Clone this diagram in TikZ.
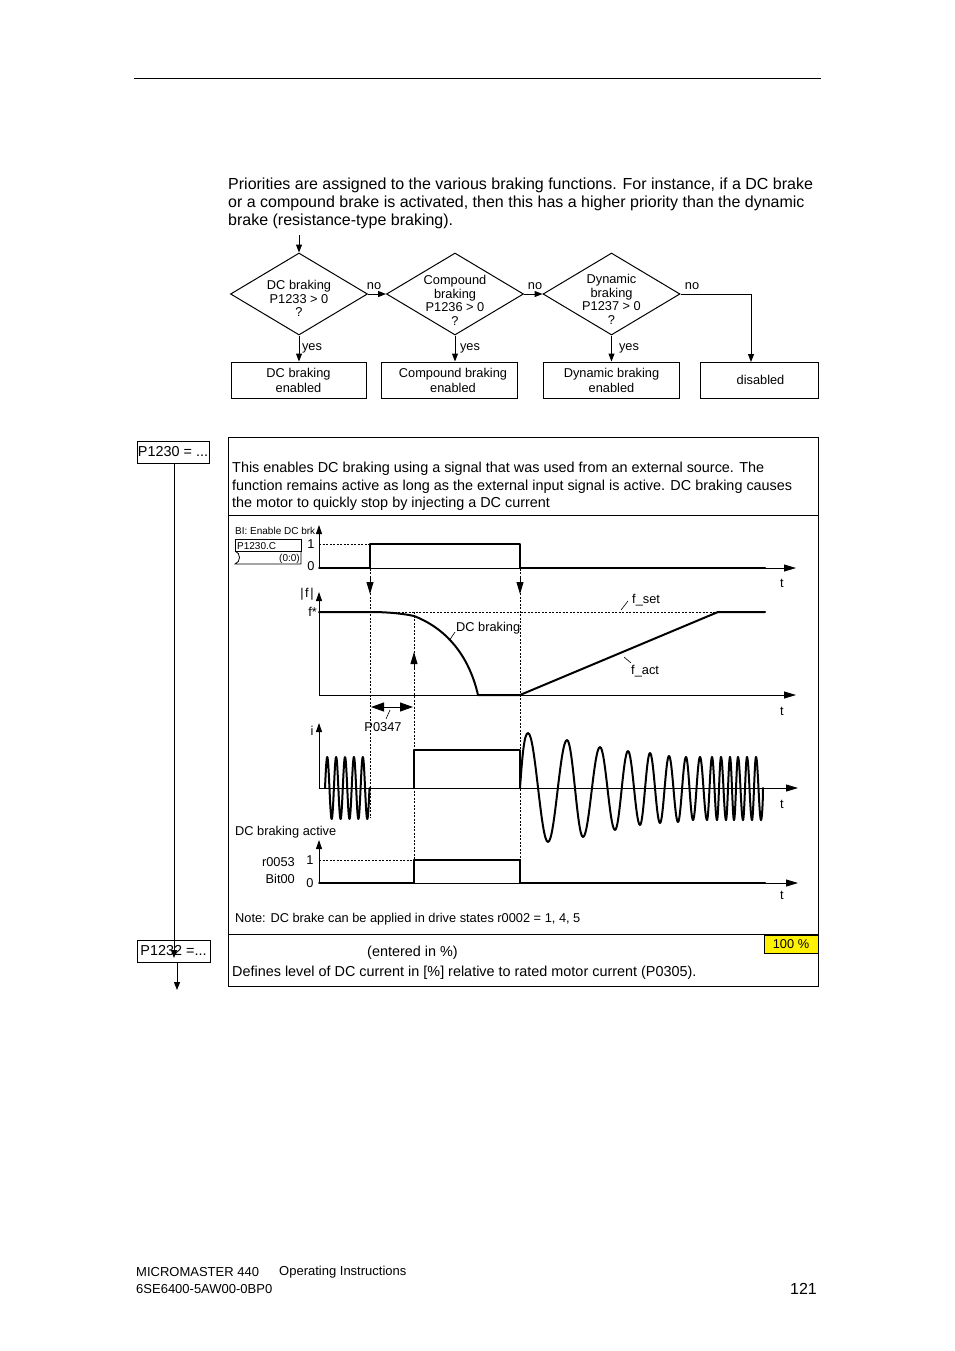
\documentclass[tikz,border=0pt]{standalone}
\usepackage{fontspec}
\setmainfont{Liberation Sans}
\usetikzlibrary{arrows.meta,shapes.geometric}
\begin{document}
\begin{tikzpicture}[x=1pt,y=-1pt,
 body/.style={font=\fontsize{16}{18}\selectfont, anchor=west, inner sep=0pt, yshift=-2pt},
 btxt/.style={font=\fontsize{14.4}{17.5}\selectfont, anchor=west, inner sep=0pt, yshift=-2pt},
 sm/.style={font=\fontsize{12.8}{13.7}\selectfont, inner sep=0pt, yshift=-1.5pt},
 tn/.style={font=\fontsize{10}{11}\selectfont, inner sep=0pt, yshift=-1pt},
 ft/.style={font=\fontsize{13}{15}\selectfont, inner sep=0pt, yshift=-1.5pt},
 dia/.style={diamond, draw, line width=1pt, minimum width=137pt, minimum height=82pt, inner sep=0pt},
 fbox/.style={draw, line width=1pt, minimum height=36pt, inner sep=0pt, font=\fontsize{12.8}{15}\selectfont, align=center},
 pbox/.style={draw, line width=1pt, minimum height=22pt, inner sep=0pt, font=\fontsize{14.4}{16}\selectfont},
 fa/.style={line width=1pt, -{Triangle[length=8pt,width=6pt]}},
 axh/.style={line width=0.9pt, -{Triangle[length=12pt,width=7pt]}},
 axv/.style={line width=0.9pt, -{Triangle[length=9pt,width=6pt]}},
 sig/.style={line width=2pt, line join=round, line cap=round},
 dl/.style={line width=0.7pt, dash pattern=on 2pt off 1.5pt},
 tipd/.style={line width=0.9pt, -{Triangle[length=12pt,width=7pt]}},
]
\useasboundingbox (0,0) rectangle (954,1351);
\fill[white] (0,0) rectangle (954,1351);

% top rule
\draw[line width=0.9pt] (134,78) -- (821,78);

% paragraph
\node[body] (p1) at (228,183) {Priorities are assigned to the various braking functions. For instance, if a DC brake};
\node[body] (p2) at (228,201) {or a compound brake is activated, then this has a higher priority than the dynamic};
\node[body] (p3) at (228,219) {brake (resistance-type braking).};

% flowchart
\node[dia] (d1) at (299,294) {};
\node[dia] (d2) at (455,294) {};
\node[dia] (d3) at (611.5,294) {};
\node[sm, align=center] (t1) at ([yshift=-3pt]d1.center) {DC braking\\P1233 > 0\\?};
\node[sm, align=center] (t2) at ([yshift=-5pt]d2.center) {Compound\\braking\\P1236 > 0\\?};
\node[sm, align=center] (t3) at ([yshift=-4pt]d3.center) {Dynamic\\braking\\P1237 > 0\\?};

\node[fbox, minimum width=135pt] (b1) at (298.5,380) {DC braking\\enabled};
\node[fbox, minimum width=136pt] (b2) at (449,380) {\hspace*{8pt}Compound braking\\\hspace*{8pt}enabled};
\node[fbox, minimum width=136pt] (b3) at (611.5,380) {Dynamic braking\\enabled};
\node[fbox, minimum width=118pt] (b4) at (759,380) {\hspace*{3pt}disabled};

\coordinate (in) at (299,235);
\coordinate (k4) at (751,362);
\draw[fa] (in) -- (d1.north);
\draw[fa] (d1.east) -- (d2.west);
\draw[fa] (d2.east) -- (d3.west);
\draw[fa] (d3.east) -| (k4);
\draw[fa] (d1.south) -- (d1.south |- b1.north);
\draw[fa] (d2.south) -- (d2.south |- b2.north);
\draw[fa] (d3.south) -- (d3.south |- b3.north);

\node[sm] (n1) at (374,285) {no};
\node[sm] (n2) at (535,285) {no};
\node[sm] (n3) at (692,285) {no};
\node[sm] (y1) at (312,347) {yes};
\node[sm] (y2) at (470,347) {yes};
\node[sm] (y3) at (629,347) {yes};

% panel
\draw[line width=1pt] (228,437) rectangle (818,986);
\draw[line width=1pt] (228,515) -- (818,515);
\draw[line width=1pt] (228,934) -- (818,934);

\node[btxt] (e1) at (232,467) {This enables DC braking using a signal that was used from an external source. The};
\node[btxt] (e2) at (232,485) {function remains active as long as the external input signal is active. DC braking causes};
\node[btxt] (e3) at (232,502) {the motor to quickly stop by injecting a DC current};

\node[btxt] (g1) at (367,951) {(entered in \%)};
\node[btxt] (g2) at (232,971) {Defines level of DC current in [\%] relative to rated motor current (P0305).};
\node[draw, fill=yellow, line width=0.8pt, minimum width=54pt, minimum height=18pt, font=\fontsize{12.8}{13.7}\selectfont, inner sep=0pt] (pct) at (791,944) {100 \%};

% parameter boxes on the left
\node[pbox, minimum width=72pt] (p30) at (173,452) {P1230 = ...};
\node[pbox, minimum width=73pt] (p32) at (173.5,951) {P1232 =...};
\coordinate (p32in) at (174,958);
\coordinate (pout) at (177,990);
\draw[fa] (p30.south -| p32in) -- (p32in);
\draw[fa] (p32.south -| pout) -- (pout);

% ---------------- timing diagram ----------------
% BI connector
\node[tn, anchor=west] (bi) at (235,530) {BI: Enable DC brk};
\draw[line width=0.8pt] (235,539) rectangle (301,551);
\draw[line width=0.8pt] (235,551) .. controls (241,553) and (241,562) .. (235,564) -- (301,564) -- (301,551);
\node[tn, anchor=west] (bic) at (237,545) {P1230.C};
\node[tn, anchor=east] (bid) at (300,558) {(0:0)};

% graph 1 : BI
\draw[axv] (319,568) -- (319,525);
\draw[axh] (319,568) -- (796,568);
\node[sm] at (311,543) {1};
\node[sm] at (311,565) {0};
\draw[dl] (319,544) -- (370,544);
\draw[sig] (319,568) -- (370,568) -- (370,544) -- (520,544) -- (520,568) -- (765,568);
\node[sm] at (782,582) {t};

% dashed verticals
\draw[dl] (370,544) -- (370,818);
\draw[dl] (414,612) -- (414,883);
\draw[dl] (520,544) -- (520,883);
\draw[tipd] (370,578) -- (370,594);
\draw[tipd] (520,578) -- (520,594);
\draw[tipd] (414,668) -- (414,652);

% graph 2 : |f|
\draw[axv] (319,695) -- (319,592);
\draw[axh] (319,695) -- (796,695);
\node[sm] at (307,593) {|\kern1.5pt f\kern1.5pt|};
\node[sm, anchor=east] at (317,610) {f*};
\draw[dl] (370,612) -- (718,612);
\draw[sig] (319,612) -- (370,612) .. controls (390,612) and (405,614) .. (414,616)
   .. controls (450,630) and (470,660) .. (478,695) -- (520,695) -- (718,612) -- (765,612);
\node[sm] at (782,710) {t};
\node[sm, anchor=west] (dcb) at (456,627) {DC braking};
\draw[line width=0.6pt] (455,632) -- (449,641);
\node[sm, anchor=west] (fset) at (632,599) {f\_set};
\draw[line width=0.6pt] (628,601) -- (621,610);
\node[sm, anchor=west] (fact) at (631,670) {f\_act};
\draw[line width=0.6pt] (631,663) -- (624,657);

% P0347
\draw[line width=1pt, {Triangle[length=13pt,width=9pt]}-{Triangle[length=13pt,width=9pt]}] (371,707) -- (413,707);
\draw[line width=0.6pt] (390,710) -- (386,719);
\node[sm] (p347) at (383,726) {P0347};

% graph 3 : i
\draw[axv] (319,788) -- (319,723);
\draw[axh] (319,788) -- (798,788);
\node[sm] at (312,729) {i};
\node[sm] at (782,803) {t};
\draw[sig] plot[domain=325:369.5, samples=160, smooth] (\x, {788-31*sin(360*(\x-325)/8.9)});
\draw[sig] (414,788) -- (414,750) -- (520,750) -- (520,788);
\draw[sig] (520,788) .. controls (522,760) and (524,733) .. (528,733);
\foreach \xa/\ya/\xb/\yb in {528/733/548/842, 548/842/567/740, 567/740/583/837, 583/837/600/747,
  600/747/615/830, 615/830/628/751, 628/751/640/825, 640/825/650/753, 650/753/660/823,
  660/823/669/756, 669/756/678/822, 678/822/686/757, 686/757/693/820, 693/820/700/757,
  700/757/707/820, 707/820/712/757, 712/757/717/820, 717/820/721/757, 721/757/726/820,
  726/820/730/757, 730/757/734/820, 734/820/738/757, 738/757/743/820, 743/820/747/757,
  747/757/752/820, 752/820/756/757, 756/757/761/820}
{ \draw[sig] (\xa,\ya) .. controls ({\xa+0.3634*(\xb-\xa)},\ya) and ({\xb-0.3634*(\xb-\xa)},\yb) .. (\xb,\yb); }
\draw[sig] (761,820) .. controls (762,820) and (763,800) .. (763,788);

% graph 4 : r0053
\node[sm, anchor=west] (dca) at (235,831) {DC braking active};
\draw[axv] (319,883) -- (319,840);
\draw[axh] (319,883) -- (798,883);
\node[sm] at (310,859) {1};
\node[sm] at (310,882) {0};
\node[sm, anchor=east] at (295,861) {r0053};
\node[sm, anchor=east] at (295,877) {Bit00};
\draw[dl] (319,860) -- (414,860);
\draw[sig] (319,883) -- (414,883) -- (414,860) -- (520,860) -- (520,883) -- (765,883);
\node[sm] at (782,894) {t};

\node[sm, anchor=west] (note) at (235,918) {Note: DC brake can be applied in drive states r0002 = 1, 4, 5};

% footer
\node[ft, anchor=west] (f1) at (136,1271) {MICROMASTER 440};
\node[ft, anchor=west] (f2) at (279,1271) {Operating Instructions};
\node[ft, anchor=west] (f3) at (136,1288) {6SE6400-5AW00-0BP0};
\node[font=\fontsize{16}{18}\selectfont, inner sep=0pt, anchor=east, yshift=-1.5pt] (pg) at (817,1287) {121};
\end{tikzpicture}
\end{document}
